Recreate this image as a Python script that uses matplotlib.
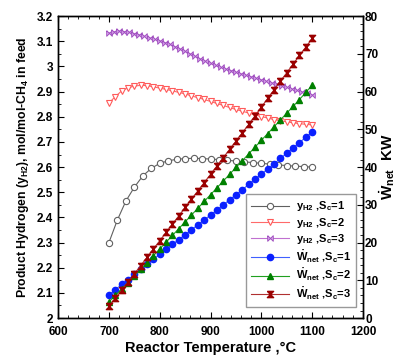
import numpy as np
import matplotlib
matplotlib.use("Agg")
import matplotlib.pyplot as plt
from matplotlib.ticker import MultipleLocator

plt.rcParams['font.family'] = ['Liberation Sans', 'DejaVu Sans']
plt.rcParams['font.weight'] = 'bold'
plt.rcParams['mathtext.fontset'] = 'custom'
plt.rcParams['mathtext.rm'] = 'Liberation Sans:bold'
plt.rcParams['mathtext.it'] = 'Liberation Sans:bold'
plt.rcParams['mathtext.bf'] = 'Liberation Sans:bold'

# temperatures (deg C) for each series
T_sc1 = np.linspace(700, 1100, 25)
T_sc2 = np.linspace(700, 1100, 33)
T_sc3 = np.linspace(700, 1100, 41)
T_w = np.linspace(700, 1100, 33)

# product hydrogen, mol/mol-CH4
y_sc1 = [2.30, 2.39, 2.465, 2.52, 2.565, 2.595, 2.615, 2.625, 2.631, 2.634,
         2.635, 2.634, 2.632, 2.630, 2.627, 2.624, 2.621, 2.618, 2.615, 2.612,
         2.609, 2.606, 2.604, 2.602, 2.600]
y_sc2 = [2.855, 2.880, 2.903, 2.915, 2.922, 2.925, 2.924, 2.919, 2.914, 2.909,
         2.903, 2.897, 2.891, 2.883, 2.876, 2.869, 2.861, 2.853, 2.845, 2.837,
         2.829, 2.822, 2.815, 2.808, 2.801, 2.795, 2.789, 2.784, 2.780, 2.776,
         2.773, 2.770, 2.768]
y_sc3 = [3.133, 3.138, 3.141, 3.139, 3.136, 3.131, 3.126, 3.120, 3.114, 3.108,
         3.102, 3.095, 3.088, 3.079, 3.070, 3.060, 3.050, 3.040, 3.030, 3.021,
         3.012, 3.004, 2.996, 2.990, 2.984, 2.977, 2.971, 2.965, 2.959, 2.953,
         2.947, 2.941, 2.935, 2.929, 2.923, 2.917, 2.911, 2.905, 2.899, 2.893,
         2.888]

# net work, KW
w_sc1 = [6.1, 7.5, 8.9, 10.2, 11.6, 12.9, 14.3, 15.6, 16.9, 18.2, 19.5, 20.8,
         22.1, 23.4, 24.7, 26.0, 27.3, 28.6, 30.0, 31.3, 32.7, 34.0, 35.4, 36.8,
         38.1, 39.5, 40.9, 42.3, 43.7, 45.1, 46.5, 47.9, 49.3]
w_sc2 = [4.3, 6.0, 7.7, 9.4, 11.2, 12.9, 14.7, 16.5, 18.3, 20.1, 21.9, 23.7,
         25.5, 27.3, 29.1, 30.9, 32.7, 34.5, 36.3, 38.1, 39.9, 41.7, 43.5, 45.3,
         47.1, 48.9, 50.7, 52.5, 54.3, 56.1, 57.9, 59.8, 61.7]
w_sc3 = [3.1, 5.2, 7.4, 9.5, 11.7, 13.9, 16.1, 18.3, 20.5, 22.7, 24.9, 27.1,
         29.3, 31.5, 33.7, 35.9, 38.1, 40.3, 42.5, 44.7, 46.9, 49.1, 51.3, 53.6,
         55.9, 58.2, 60.5, 62.8, 65.0, 67.3, 69.6, 71.8, 74.1]

bowtie = [(-1, 1), (-1, -1), (1, 1), (1, -1), (-1, 1)]
hourglass = [(-1, 1), (1, 1), (-1, -1), (1, -1), (-1, 1)]

fig = plt.figure(figsize=(3.98, 3.59), dpi=100)
ax = fig.add_axes([0.146, 0.114, 0.766, 0.841])
ax2 = ax.twinx()

lines = []
lines += ax.plot(T_sc1, y_sc1, color='#606060', lw=0.8, marker='o', ms=4.5,
                 mfc='white', mec='#606060', mew=0.8, label=r'y$_{H2}$ ,S$_c$=1')
lines += ax.plot(T_sc2, y_sc2, color='#ff6a6a', lw=0.8, marker='v', ms=4.5,
                 mfc='white', mec='#ff5a5a', mew=0.8, label=r'y$_{H2}$ ,S$_c$=2')
lines += ax.plot(T_sc3, y_sc3, color='#c070d0', lw=0.8, marker=bowtie, ms=4,
                 mfc='#e0b0f0', mec='#a050c0', mew=0.7, label=r'y$_{H2}$ ,S$_c$=3')
lines += ax2.plot(T_w, w_sc1, color='#4060ff', lw=0.8, marker='o', ms=4.5,
                  mfc='#0a20ff', mec='#0a20ff', label=r'$\dot{W}_{net}$ ,S$_c$=1')
lines += ax2.plot(T_w, w_sc2, color='#20a020', lw=0.8, marker='^', ms=4.5,
                  mfc='#008000', mec='#008000', label=r'$\dot{W}_{net}$ ,S$_c$=2')
lines += ax2.plot(T_w, w_sc3, color='#b03030', lw=0.8, marker=hourglass, ms=4.5,
                  mfc='#9a0000', mec='#9a0000', label=r'$\dot{W}_{net}$ ,S$_c$=3')

ax.set_xlim(600, 1200)
ax.set_ylim(2, 3.2)
ax2.set_ylim(0, 80)
ax.xaxis.set_major_locator(MultipleLocator(100))
ax.xaxis.set_minor_locator(MultipleLocator(20))
ax.yaxis.set_minor_locator(MultipleLocator(0.05))
ax2.yaxis.set_major_locator(MultipleLocator(10))
ax2.yaxis.set_minor_locator(MultipleLocator(2))
ax.set_yticks(np.arange(2, 3.21, 0.1))
ax.set_yticklabels(['2', '2.1', '2.2', '2.3', '2.4', '2.5', '2.6', '2.7',
                    '2.8', '2.9', '3', '3.1', '3.2'])

ax.tick_params(axis='both', which='both', direction='in', top=True,
               labelsize=8.5)
ax.tick_params(axis='x', pad=6)
ax.tick_params(which='major', length=4)
ax.tick_params(which='minor', length=2)
ax2.tick_params(which='both', direction='in', labelsize=8.5, pad=1.5)
ax2.tick_params(which='major', length=4)
ax2.tick_params(which='minor', length=2)
for a in (ax, ax2):
    for s in a.spines.values():
        s.set_linewidth(1.0)

ax.set_xlabel('Reactor Temperature ,°C', fontsize=10.5, fontweight='bold',
              labelpad=2)
ax.set_ylabel(r'Product Hydrogen (y$_{H2}$), mol/mol-CH$_4$ in feed',
              fontsize=8.8, fontweight='bold', labelpad=4)
fig.text(0.972, 0.535, r'$\dot{W}_{net}$  KW', fontsize=11,
         fontweight='bold', rotation=90, ha='center', va='center')

leg = ax.legend(handles=lines, loc='lower right', bbox_to_anchor=(0.985, 0.03),
                fontsize=8, frameon=True, fancybox=False, edgecolor='#808080',
                handlelength=3.4, labelspacing=0.22, borderpad=0.45,
                handletextpad=0.6, borderaxespad=0.2)
leg.get_frame().set_linewidth(1.0)

fig.savefig('out.png', dpi=100)
